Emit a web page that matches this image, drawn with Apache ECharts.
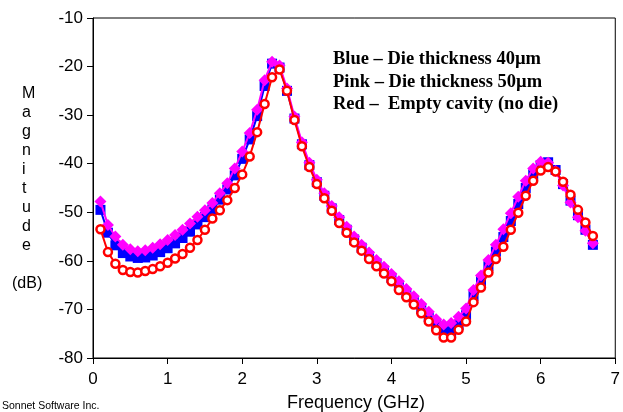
<!DOCTYPE html>
<html>
<head>
<meta charset="utf-8">
<script src="https://cdn.jsdelivr.net/npm/echarts@6/dist/echarts.min.js"></script>
<style>
html,body{margin:0;padding:0;background:#fff;}
#chart{width:623px;height:412px;}
</style>
</head>
<body>
<div id="chart"></div>
<script>
var freq = [0.1,0.2,0.3,0.4,0.5,0.6,0.7,0.8,0.9,1.0,1.1,1.2,1.3,1.4,1.5,1.6,1.7,1.8,1.9,2.0,
            2.1,2.2,2.3,2.4,2.5,2.6,2.7,2.8,2.9,3.0,3.1,3.2,3.3,3.4,3.5,3.6,3.7,3.8,3.9,4.0,
            4.1,4.2,4.3,4.4,4.5,4.6,4.7,4.8,4.9,5.0,5.1,5.2,5.3,5.4,5.5,5.6,5.7,5.8,5.9,6.0,
            6.1,6.2,6.3,6.4,6.5,6.6,6.7];
var blueDie40 = [-49.5,-54.2,-56.8,-58.4,-59.1,-59.4,-59.3,-58.9,-58.2,-57.4,-56.4,-55.3,-54,-52.5,-51,-49.4,-47.4,-45.3,-42.4,-39,
            -35,-30.2,-24,-19.4,-20.2,-25,-30.7,-36,-40.3,-43.8,-46.6,-49.2,-51.6,-53.6,-55.6,-57.3,-59,-60.5,-62,-63.5,
            -65.1,-66.7,-68.2,-69.9,-71.5,-73.2,-74.5,-74.5,-73.2,-71.2,-67.2,-64.2,-61.1,-58.1,-55.1,-51.8,-48.3,-45,-42.2,-40.3,
            -39.7,-41.3,-44.2,-47.6,-50.6,-53.6,-56.7];
var pinkDie50 = [-47.8,-52.6,-55,-56.7,-57.6,-58,-57.8,-57.3,-56.6,-55.7,-54.7,-53.6,-52.3,-50.9,-49.6,-48.1,-46.1,-44,-41,-37.5,
            -33.7,-28.9,-22.8,-19,-19.8,-24.5,-30.3,-35.6,-39.8,-43.3,-46.1,-48.7,-51,-53,-55,-56.7,-58.3,-59.8,-61.2,-62.7,
            -64.2,-65.8,-67.3,-68.9,-70.5,-72,-73.1,-72.8,-71.5,-69.8,-66,-63,-59.8,-56.7,-53.5,-50.2,-46.8,-43.5,-41,-39.6,
            -39.8,-41.5,-44.5,-48,-51,-53.8,-56.4];
var redEmpty = [-53.5,-58.2,-60.6,-61.9,-62.3,-62.4,-62.1,-61.7,-61.1,-60.4,-59.5,-58.6,-57.3,-55.7,-53.6,-51.3,-49.6,-47.5,-45,-42.2,
            -38.5,-33.5,-27.7,-22.2,-20.6,-25,-31,-36.4,-40.7,-44.2,-47.1,-49.7,-52.2,-54.2,-56.2,-57.9,-59.6,-61.1,-62.6,-64.2,
            -66,-67.5,-69,-70.8,-72.5,-74.3,-75.8,-75.8,-74.2,-72.5,-68.5,-65.5,-62.4,-59.6,-57.1,-53.6,-50.1,-46.6,-43.5,-41.4,
            -40.7,-41.6,-43.7,-46.4,-49.5,-52.1,-54.9];
var legendLines = ['Blue \u2013 Die thickness 40\u00b5m','Pink \u2013 Die thickness 50\u00b5m','Red \u2013  Empty cavity (no die)'];
var xTicks = [0,1,2,3,4,5,6,7];
var yTicks = [-80,-70,-60,-50,-40,-30,-20,-10];

function pairs(ys){ return freq.map(function(f,i){ return [f, ys[i]]; }); }

var chart = echarts.init(document.getElementById('chart'), null, {renderer:'canvas'});
var axisFont = {fontFamily:'Liberation Sans, Arial, sans-serif', fontSize:17, color:'#000'};
chart.setOption({
  animation:false,
  backgroundColor:'#fff',
  grid:{left:93, right:2, top:18, bottom:54, show:true, borderColor:'#000', borderWidth:1},
  xAxis:{type:'value', min:xTicks[0], max:xTicks[xTicks.length-1], interval:1,
    axisLine:{show:true, lineStyle:{color:'#000', width:1}},
    axisTick:{show:true, length:6, lineStyle:{color:'#000'}},
    splitLine:{show:false},
    axisLabel:Object.assign({margin:13, showMaxLabel:true}, axisFont)},
  yAxis:{type:'value', min:yTicks[0], max:yTicks[yTicks.length-1], interval:10,
    axisLine:{show:true, lineStyle:{color:'#000', width:1}},
    axisTick:{show:true, length:6, lineStyle:{color:'#000'}},
    splitLine:{show:false},
    axisLabel:Object.assign({margin:10}, axisFont)},
  series:[
    {type:'line', name:'Blue', data:pairs(blueDie40), symbol:'rect', symbolSize:10,
      lineStyle:{color:'#0000ff', width:2}, itemStyle:{color:'#0000ff'}, z:2},
    {type:'line', name:'Pink', data:pairs(pinkDie50), symbol:'diamond', symbolSize:12,
      lineStyle:{color:'#ff00ff', width:2}, itemStyle:{color:'#ff00ff'}, z:3},
    {type:'line', name:'Red', data:pairs(redEmpty), symbol:'circle', symbolSize:8,
      lineStyle:{color:'#ff0000', width:2}, itemStyle:{color:'#ffffff', borderColor:'#ff0000', borderWidth:2.5}, z:4}
  ],
  graphic:[
    {type:'text', left:333, top:48, style:{text:legendLines.join('\n'), lineHeight:22.5,
      font:'bold 18.5px "Liberation Serif", "Times New Roman", serif', fill:'#000'}},
    {type:'text', left:22, top:84, style:{text:'M\na\ng\nn\ni\nt\nu\nd\ne', lineHeight:19, align:'center',
      font:'16px "Liberation Sans", Arial, sans-serif', fill:'#000'}},
    {type:'text', left:12, top:276, style:{text:'(dB)', font:'16px "Liberation Sans", Arial, sans-serif', fill:'#000'}},
    {type:'text', left:287, top:394, style:{text:'Frequency (GHz)', font:'18px "Liberation Sans", Arial, sans-serif', fill:'#000'}},
    {type:'text', left:2, top:401, style:{text:'Sonnet Software Inc.', font:'10.5px "Liberation Sans", Arial, sans-serif', fill:'#000'}}
  ]
});
</script>
</body>
</html>
